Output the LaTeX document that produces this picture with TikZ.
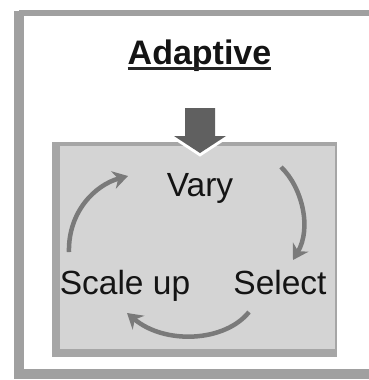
\documentclass[tikz,border=0pt]{standalone}
\usepackage{fontspec}
\setmainfont{Liberation Sans}
\usetikzlibrary{arrows.meta,calc}
\definecolor{frameg}{HTML}{A0A0A0}
\definecolor{boxfill}{HTML}{D4D4D4}
\definecolor{boxedge}{HTML}{A6A6A6}
\definecolor{darrow}{HTML}{606060}
\definecolor{carrow}{HTML}{7A7A7A}
\tikzset{
  lbl/.style={font=\fontsize{33.5}{38}\selectfont, text=black!92, anchor=base, inner sep=0pt},
  cyc/.style={draw=carrow, line width=4.5pt, -{Stealth[length=15pt,width=18pt]}},
}
\begin{document}
\begin{tikzpicture}[x=1pt,y=-1pt]
\useasboundingbox (0,0) rectangle (369,380);
\fill[white] (0,0) rectangle (369,380);
% outer frame
\draw[frameg, line width=6pt] (19,13) -- (420,13);
\draw[frameg, line width=10pt] (19,11) -- (19,374) -- (420,374);
% inner box
\fill[boxfill] (52,142) rectangle (337,357);
\draw[boxedge, line width=4pt] (52,144) -- (337,144);
\draw[boxedge, line width=8pt] (56,142) -- (56,357);
\draw[boxedge, line width=8pt] (52,353) -- (337,353);
\draw[boxedge, line width=2pt] (336,142) -- (336,357);
% big down arrow
\draw[white, line width=6pt, line join=miter, fill=darrow]
  (185,108) -- (215,108) -- (215,136) -- (226,136) -- (200,153) -- (174,136) -- (185,136) -- cycle;
\fill[darrow] (185,108) -- (215,108) -- (215,136) -- (226,136) -- (200,153) -- (174,136) -- (185,136) -- cycle;
% title
\node[lbl, font=\fontsize{34}{38}\selectfont\bfseries] (title) at (199.5,64) {Adaptive};
\draw[black!85, line width=2.8pt] ($(title.base west)+(0,4.5)$) -- ($(title.base east)+(0,4.5)$);
% labels
\node[lbl] (vary) at (200,196) {Vary};
\node[lbl] (select) at (280,294) {Select};
\node[lbl] (scale) at (125,294) {Scale up};
% cycle arrows
\coordinate (a1s) at (281,167);
\coordinate (a1e) at (293,260);
\coordinate (a2s) at (249,312);
\coordinate (a2e) at (127,313);
\coordinate (a3s) at (69,252);
\coordinate (a3e) at (128,176);
\draw[cyc] (a1s) .. controls (302,187) and (312,228) .. (a1e);
\draw[cyc] (a2s) .. controls (225,342) and (165,345) .. (a2e);
\draw[cyc] (a3s) .. controls (68,212) and (95,185) .. (a3e);
\end{tikzpicture}
\end{document}
